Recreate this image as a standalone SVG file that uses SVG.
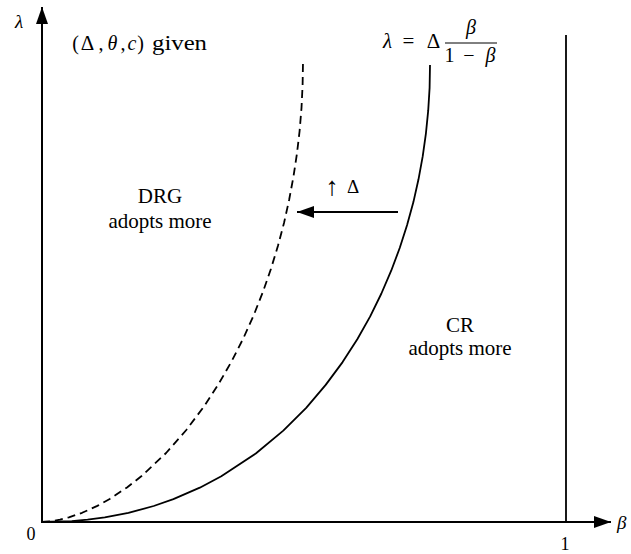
<svg xmlns="http://www.w3.org/2000/svg" width="631" height="554" viewBox="0 0 631 554">
  <style>
    .ax { stroke:#000; stroke-width:2; fill:none; }
    .ln { stroke:#000; stroke-width:1.8; fill:none; stroke-linejoin:round; }
    .dash { stroke:#000; stroke-width:1.8; fill:none; stroke-dasharray:8 5; stroke-linejoin:round; }
    text { font-family:"Liberation Serif","Times New Roman",serif; fill:#000; }
    .it { font-style:italic; }
  </style>
  <defs>
    <marker id="ah" markerUnits="userSpaceOnUse" markerWidth="18" markerHeight="14" refX="17" refY="6" orient="auto">
      <path d="M0,0 L17,6 L0,12 Z" fill="#000"/>
    </marker>
  </defs>
  <rect width="631" height="554" fill="#fff"/>

  <g id="axes">
    <line class="ax" x1="42" y1="522" x2="42" y2="7" marker-end="url(#ah)"/>
    <line class="ax" x1="41" y1="522" x2="611" y2="522" marker-end="url(#ah)"/>
    <line class="ln" x1="566" y1="35" x2="566" y2="522"/>
  </g>

  <g id="curves">
    <path id="solid-curve" class="ln" d="M42,522 L71.8,521.1 L87.6,519.7 L104.8,517.4 L128.4,512.9 L153.7,506 L173.4,499.2 L199.8,487.7 L221.3,476.3 L255.8,453.5 L283.3,430.6 L306.2,407.8 L325.7,384.9 L342.6,362.1 L357.3,339.2 L370.2,316.4 L381.4,293.5 L391.2,270.7 L399.8,247.8 L407.1,225 L413.4,202.1 L418.5,179.3 L422.7,156.4 L425.9,133.6 L428.2,110.7 L429.6,87.9 L430,65"/>
    <path id="dashed-curve" class="dash" d="M42,522 L52.6,521.1 L60,519.7 L68.9,517.4 L82.1,512.8 L97.3,505.9 L109.7,499 L127,487.5 L141.6,476 L166.1,453 L186.3,430 L203.6,407 L218.6,384 L231.8,361 L243.5,338 L253.8,315 L262.9,292 L270.9,269 L277.9,246 L284,223 L289.1,200 L293.4,177 L296.9,154 L299.6,131 L301.5,108 L302.6,85 L303,62"/>
  </g>

  <g id="connectors">
    <line class="ln" x1="398" y1="212" x2="297" y2="212" marker-end="url(#ah)"/>
  </g>

  <g id="labels">
    <text class="it" x="15" y="28" font-size="19">λ</text>
    <text class="it" x="617" y="529" font-size="19">β</text>
    <text x="31" y="540" font-size="18" text-anchor="middle">0</text>
    <text x="565" y="550" font-size="18" text-anchor="middle">1</text>
    <text y="50" font-size="20" text-anchor="middle"><tspan x="75.5">(</tspan><tspan x="87.5" font-size="21">Δ</tspan><tspan x="101">,</tspan><tspan x="112.5" class="it">θ</tspan><tspan x="123">,</tspan><tspan x="132" class="it">c</tspan><tspan x="140.5">)</tspan><tspan x="179.5" textLength="55" lengthAdjust="spacingAndGlyphs">given</tspan></text>
    <text y="48" font-size="21" text-anchor="middle"><tspan x="387.5" class="it">λ</tspan><tspan x="408.5">=</tspan><tspan x="433.5">Δ</tspan></text>
    <text class="it" x="471" y="34" font-size="20" text-anchor="middle">β</text>
    <line x1="445" y1="43" x2="497" y2="43" stroke="#000" stroke-width="1"/>
    <text y="62" font-size="20" text-anchor="middle"><tspan x="449.5">1</tspan><tspan x="469">−</tspan><tspan x="490.5" class="it">β</tspan></text>
    <text y="195" font-size="19" text-anchor="middle"><tspan x="332" font-size="26">↑</tspan><tspan x="353" dy="-2">Δ</tspan></text>
    <text x="160" y="203" font-size="21" text-anchor="middle">DRG</text>
    <text x="160" y="228" font-size="21" text-anchor="middle">adopts more</text>
    <text x="460" y="332" font-size="21" text-anchor="middle">CR</text>
    <text x="460" y="355" font-size="21" text-anchor="middle">adopts more</text>
  </g>
</svg>
